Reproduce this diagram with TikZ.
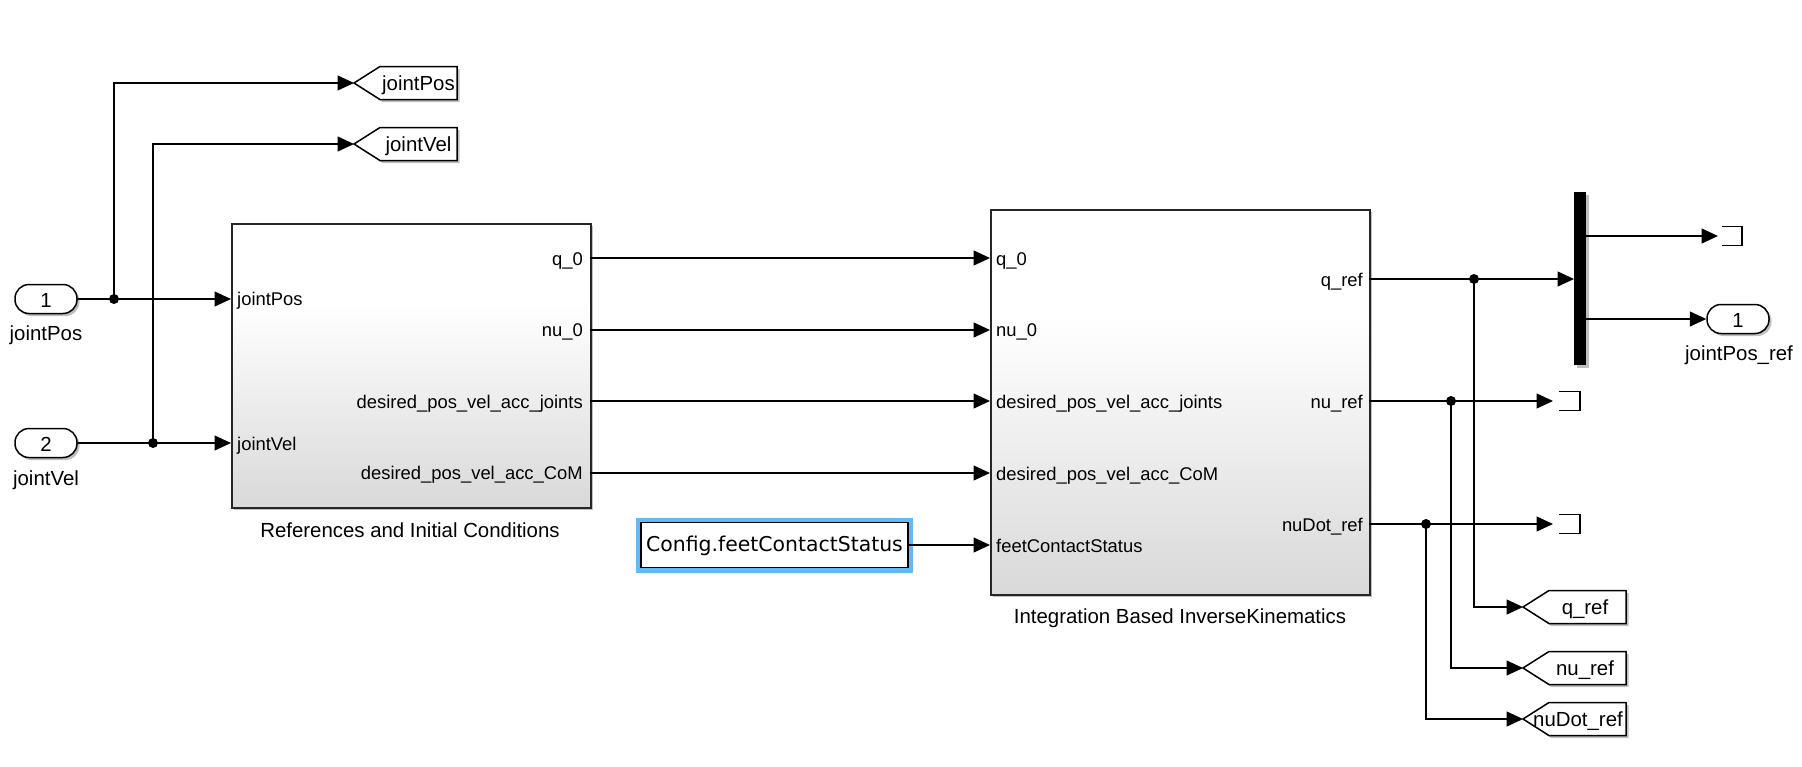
\documentclass[tikz,border=0pt]{standalone}
\usepackage{fontspec}
\setmainfont{Liberation Sans}
\newfontfamily\dejavu{DejaVu Sans}
\usetikzlibrary{arrows.meta,shadows}
\definecolor{cfgblue}{RGB}{100,185,245}
\pgfdeclareverticalshading{blockshade}{100bp}{color(0bp)=(black!15); color(25bp)=(black!15); color(61bp)=(white); color(100bp)=(white)}
\newcommand{\mygoto}[5]{%
  \coordinate (#1) at (#2,#3);
  \filldraw[gotoshape] (#1) -- ++(26,-16.5) -- ++(77,0) -- ++(0,33) -- ++(-77,0) -- cycle;
  \node[nlab] at ([xshift=#5pt]#1) {#4};
}
\newcommand{\myterm}[5]{%
  \coordinate (#1) at (#2,#3);
  \draw[wire] ([xshift=#4pt,yshift=9.5pt]#1) -- ++(#5,0) -- ++(0,19) -- ++(-#5,0);
}
\begin{document}
\begin{tikzpicture}[x=1pt,y=-1pt,
  wire/.style={line width=1.3pt, black},
  arr/.style={wire, -{Triangle[length=16.5pt,width=15pt]}},
  shd/.style={drop shadow={shadow xshift=2.5pt,shadow yshift=-2.5pt,opacity=0.25,fill=black}},
  blk/.style={draw=black!85, line width=1.8pt, shading=blockshade, shd, inner sep=0pt, anchor=north west},
  plab/.style={font=\fontsize{18.4}{22}\selectfont, inner sep=0pt, text height=15.4pt, text depth=1.5pt},
  nlab/.style={font=\fontsize{20.4}{24}\selectfont, inner sep=0pt, text height=16.5pt, text depth=1.5pt, anchor=center},
  dot/.style={circle, fill=black, inner sep=0pt, minimum size=10pt},
  port/.style={draw, line width=1.5pt, rounded corners=14pt, minimum width=62pt, minimum height=29pt, inner sep=0pt,
     text height=16.6pt, text depth=0pt, fill=white, shd, font=\fontsize{20.4}{24}\selectfont},
  gotoshape/.style={draw=black, fill=white, line width=1.5pt, line join=miter, shd},
  cfgbox/.style={draw=black, line width=1.5pt, fill=white, minimum width=267pt, minimum height=45pt, inner sep=0pt,
     text height=14.6pt, text depth=2pt,
     font=\dejavu\fontsize{20.4}{24}\selectfont, preaction={draw=cfgblue, line width=10pt}},
  busbar/.style={fill=black, draw=none, minimum width=12pt, minimum height=173pt, inner sep=0pt, anchor=north west, shd}
]
\useasboundingbox (0,0) rectangle (1802,766);

% ---- blocks ----
\node[blk, minimum width=359pt, minimum height=284pt] (ric) at (231,223) {};
\node[blk, minimum width=379pt, minimum height=385pt] (iik) at (990,209) {};

\coordinate (ric-i1) at (231,299);
\coordinate (ric-i2) at (231,443);
\coordinate (ric-o1) at (590,258);
\coordinate (ric-o2) at (590,330);
\coordinate (ric-o3) at (590,401);
\coordinate (ric-o4) at (590,473);
\coordinate (iik-i1) at (990,258);
\coordinate (iik-i2) at (990,330);
\coordinate (iik-i3) at (990,401);
\coordinate (iik-i4) at (990,473);
\coordinate (iik-i5) at (990,545);
\coordinate (iik-o1) at (1369,279);
\coordinate (iik-o2) at (1369,401);
\coordinate (iik-o3) at (1369,524);

\node[plab, anchor=west] at (237,299) {jointPos};
\node[plab, anchor=west] at (237,444) {jointVel};
\node[plab, anchor=east] at (583,259) {q\_0};
\node[plab, anchor=east] at (583,330) {nu\_0};
\node[plab, anchor=east] at (583,402) {desired\_pos\_vel\_acc\_joints};
\node[plab, anchor=east] at (583,473) {desired\_pos\_vel\_acc\_CoM};
\node[nlab] at (410,530) {References and Initial Conditions};

\node[plab, anchor=west] at (996,259) {q\_0};
\node[plab, anchor=west] at (996,330) {nu\_0};
\node[plab, anchor=west] at (996,402) {desired\_pos\_vel\_acc\_joints};
\node[plab, anchor=west] at (996,474) {desired\_pos\_vel\_acc\_CoM};
\node[plab, anchor=west] at (996,546) {feetContactStatus};
\node[plab, anchor=east] at (1363,280) {q\_ref};
\node[plab, anchor=east] at (1363,402) {nu\_ref};
\node[plab, anchor=east] at (1363,525) {nuDot\_ref};
\node[nlab] at (1180,616) {Integration Based InverseKinematics};

% ---- inports ----
\node[port] (in1) at (46,299) {1};
\node[nlab] at (46,333) {jointPos};
\node[port] (in2) at (46,443) {2};
\node[nlab] at (46,478) {jointVel};

% ---- constant ----
\node[cfgbox] (cfg) at (774.5,545) {Config.feetContactStatus};

% ---- gotos ----
\mygoto{gJP}{354}{83}{jointPos}{64.5}
\mygoto{gJV}{354}{144}{jointVel}{64.5}
\mygoto{gQ}{1523}{607}{q\_ref}{62}
\mygoto{gNu}{1523}{668}{nu\_ref}{62}
\mygoto{gND}{1523}{719}{nuDot\_ref}{55}

% ---- bus selector, terminators, outport ----
\node[busbar] (bar) at (1574,192) {};
\myterm{t1}{1718}{236}{4}{20}
\myterm{t2}{1553}{401}{6}{21}
\myterm{t3}{1553}{524}{6}{21}
\node[port] (out1) at (1738,319) {1};
\node[nlab] at (1739,353) {jointPos\_ref};

% ---- branch points ----
\node[dot] (b1) at (114,299) {};
\node[dot] (b2) at (153,443) {};
\node[dot] (bq) at (1474,279) {};
\node[dot] (bn) at (1451,401) {};
\node[dot] (bd) at (1426,524) {};

% ---- wires ----
\draw[wire] (in1.east) -- (b1.center);
\draw[arr] (b1.center) -- (ric-i1);
\draw[arr] (b1.center) |- (gJP);
\draw[wire] (in2.east) -- (b2.center);
\draw[arr] (b2.center) -- (ric-i2);
\draw[arr] (b2.center) |- (gJV);

\draw[arr] (ric-o1) -- (iik-i1);
\draw[arr] (ric-o2) -- (iik-i2);
\draw[arr] (ric-o3) -- (iik-i3);
\draw[arr] (ric-o4) -- (iik-i4);
\draw[arr] (cfg.east) -- (iik-i5);

\draw[wire] (iik-o1) -- (bq.center);
\draw[arr] (bq.center) -- (bar.west |- bq);
\draw[arr] (bq.center) |- (gQ);
\draw[wire] (iik-o2) -- (bn.center);
\draw[arr] (bn.center) -- (t2);
\draw[arr] (bn.center) |- (gNu);
\draw[wire] (iik-o3) -- (bd.center);
\draw[arr] (bd.center) -- (t3);
\draw[arr] (bd.center) |- (gND);

\draw[arr] (bar.east |- t1) -- (t1);
\draw[arr] (bar.east |- out1) -- (out1.west);
\end{tikzpicture}
\end{document}
